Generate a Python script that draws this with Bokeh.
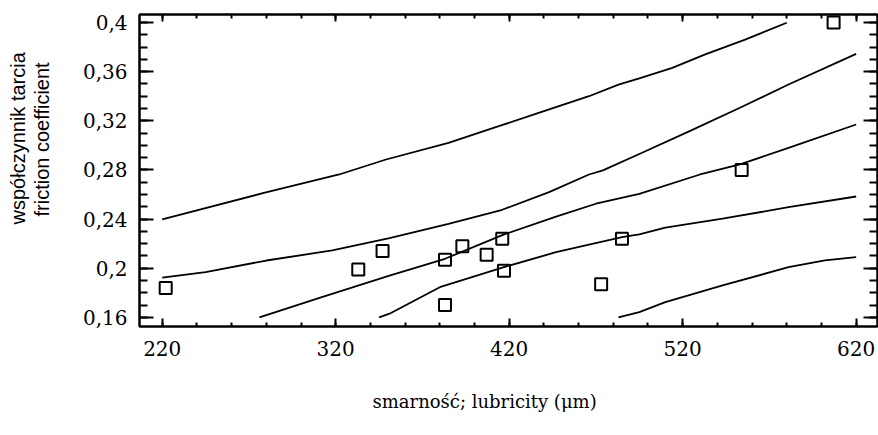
from bokeh.plotting import figure
from bokeh.models import Range1d, FixedTicker, LinearAxis, Title, CustomJSTickFormatter
from bokeh.embed import file_html
from bokeh.resources import INLINE

# ---- data ----
lubricity = [222, 333, 347, 383, 393, 407, 416, 417, 383, 473, 485, 554, 607]
friction = [0.184, 0.199, 0.214, 0.207, 0.218, 0.211, 0.224, 0.198, 0.170, 0.187, 0.224, 0.280, 0.400]

fit_x = [276, 312, 351, 383, 416, 447, 470, 495, 530, 553, 581, 620]
fit_y = [0.160, 0.1765, 0.194, 0.2077, 0.227, 0.242, 0.2525, 0.2606, 0.2763, 0.2845, 0.298, 0.317]

conf_hi_x = [220, 245, 280, 318, 351, 385, 416, 443, 466, 474, 495, 524, 553, 581, 620]
conf_hi_y = [0.1923, 0.1968, 0.2063, 0.2145, 0.2245, 0.2362, 0.2476, 0.262, 0.2763, 0.2796, 0.293, 0.3116, 0.3306, 0.3495, 0.3745]

conf_lo_x = [345, 351, 380, 417, 447, 485, 495, 510, 543, 581, 620]
conf_lo_y = [0.160, 0.163, 0.1846, 0.2009, 0.2131, 0.2253, 0.2275, 0.233, 0.2403, 0.2497, 0.2584]

pred_hi_x = [220, 278, 322, 349, 385, 414, 437, 466, 483, 495, 514, 533, 556, 580]
pred_hi_y = [0.2397, 0.2611, 0.2763, 0.2885, 0.302, 0.3156, 0.3265, 0.340, 0.3495, 0.3545, 0.363, 0.374, 0.386, 0.3998]

pred_lo_x = [483, 495, 510, 543, 581, 602, 620]
pred_lo_y = [0.160, 0.1643, 0.1724, 0.186, 0.2009, 0.2064, 0.209]

x_ticks = [220, 320, 420, 520, 620]
x_tick_labels = ["220", "320", "420", "520", "620"]
y_ticks = [0.16, 0.20, 0.24, 0.28, 0.32, 0.36, 0.40]
y_tick_labels = ["0,16", "0,2", "0,24", "0,28", "0,32", "0,36", "0,4"]

y_title_1 = "współczynnik tarcia"
y_title_2 = "friction coefficient"
x_title = "smarność; lubricity (μm)"

x_minor = [220 + 20 * i for i in range(21)]
y_minor = [round(0.16 + 0.01 * i, 2) for i in range(25)]

SERIF = "DejaVu Serif"
SANS = "Liberation Sans"

p = figure(width=878, height=435, output_backend="svg", toolbar_location=None,
           x_range=Range1d(206.9, 632.3), y_range=Range1d(0.1526, 0.4065),
           min_border_left=139, min_border_top=14, min_border_right=1, min_border_bottom=109)
p.xaxis.visible = False
p.yaxis.visible = False
p.grid.visible = False
p.outline_line_color = "black"
p.outline_line_width = 2
p.background_fill_color = "white"
p.border_fill_color = "white"

empty = CustomJSTickFormatter(code="return ''")


def style(ax, tick_in, minor_in, show_labels=True):
    ax.axis_line_color = "black"
    ax.axis_line_width = 2
    ax.major_tick_line_color = "black"
    ax.minor_tick_line_color = "black"
    ax.major_tick_line_width = 2
    ax.minor_tick_line_width = 2
    ax.major_tick_in = tick_in
    ax.major_tick_out = 0
    ax.minor_tick_in = minor_in
    ax.minor_tick_out = 0
    if show_labels:
        ax.major_label_text_font = SERIF
        ax.major_label_text_font_size = "20px"
        ax.major_label_text_color = "black"
    else:
        ax.formatter = empty
        ax.major_label_text_font_size = "1px"
        ax.major_label_standoff = 0


def spacer(ticks, gap):
    ax = LinearAxis(ticker=FixedTicker(ticks=ticks, minor_ticks=[]), formatter=empty)
    ax.axis_line_color = None
    ax.major_tick_line_color = None
    ax.minor_tick_line_color = None
    ax.major_tick_in = 0
    ax.major_tick_out = gap
    ax.minor_tick_out = 0
    ax.major_label_text_font_size = "1px"
    ax.major_label_standoff = 0
    return ax


bottom = LinearAxis(ticker=FixedTicker(ticks=x_ticks, minor_ticks=x_minor))
bottom.major_label_overrides = dict(zip(x_ticks, x_tick_labels))
style(bottom, 8, 4)
bottom.major_label_standoff = 14
p.add_layout(bottom, "below")

top = LinearAxis(ticker=FixedTicker(ticks=x_ticks, minor_ticks=x_minor))
style(top, 7, 4, show_labels=False)
p.add_layout(top, "above")

left = LinearAxis(ticker=FixedTicker(ticks=y_ticks, minor_ticks=y_minor))
left.major_label_overrides = dict(zip(y_ticks, y_tick_labels))
style(left, 14, 8)
left.major_label_standoff = 12
p.add_layout(left, "left")

right = LinearAxis(ticker=FixedTicker(ticks=y_ticks, minor_ticks=y_minor))
style(right, 14, 8, show_labels=False)
p.add_layout(right, "right")

for xs, ys in [(pred_hi_x, pred_hi_y), (conf_hi_x, conf_hi_y), (fit_x, fit_y),
               (conf_lo_x, conf_lo_y), (pred_lo_x, pred_lo_y)]:
    p.line(xs, ys, line_color="black", line_width=1.8)

p.scatter(lubricity, friction, marker="square", size=12, fill_color=None,
          line_color="black", line_width=2)

# y-axis titles (two lines, placed via side-panel titles)
p.add_layout(spacer(y_ticks, 27), "left")
p.add_layout(Title(text=y_title_2, align="left", offset=110, standoff=0,
                   vertical_align="bottom",
                   text_font=SANS, text_font_size="20px", text_font_style="normal",
                   text_color="black"), "left")
p.add_layout(Title(text=y_title_1, align="left", offset=102, standoff=0,
                   vertical_align="bottom",
                   text_font=SANS, text_font_size="20px", text_font_style="normal",
                   text_color="black"), "left")

# x-axis title
p.add_layout(spacer(x_ticks, 32), "below")
p.add_layout(Title(text=x_title, align="left", offset=233, standoff=0,
                   vertical_align="top",
                   text_font=SERIF, text_font_size="18px", text_font_style="normal",
                   text_color="black"), "below")

open("out.html", "w").write(file_html(p, INLINE))
